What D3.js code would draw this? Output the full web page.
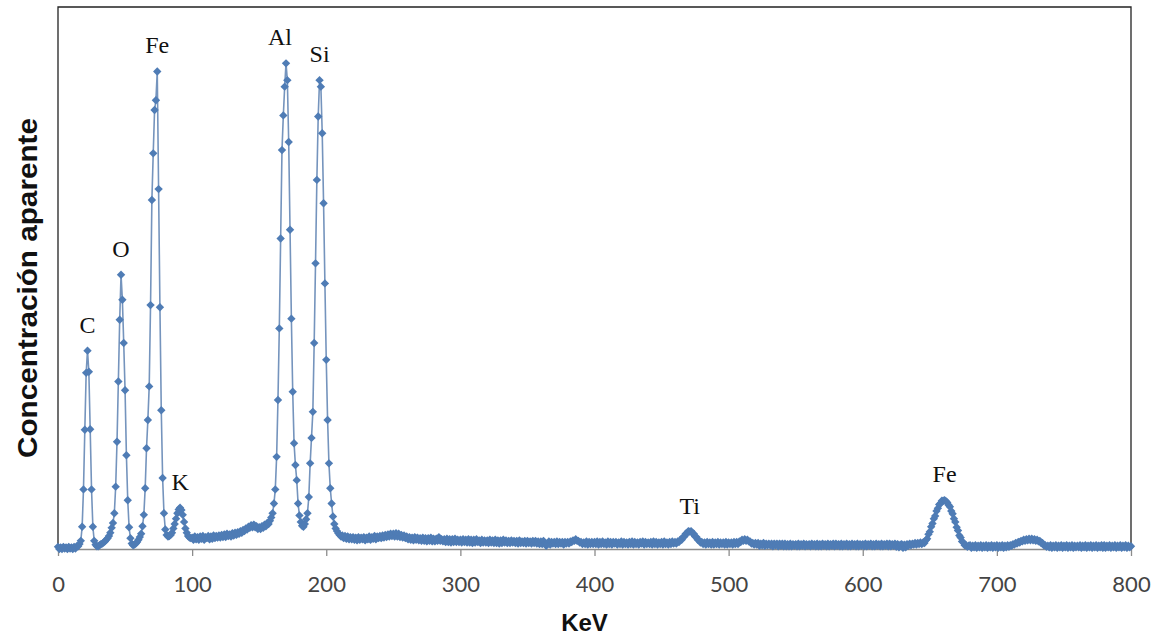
<!DOCTYPE html>
<html>
<head>
<meta charset="utf-8">
<script src="https://cdn.jsdelivr.net/npm/d3@7"></script>
<style>
  body { margin: 0; background: #fff; }
</style>
</head>
<body>
<svg id="chart"></svg>
<script>
const width = 1166;
const height = 639;

// Spectrum readings, one per KeV channel (0..800)
const channelKeV = 1;
const concentration = [
  0.4,0.0,0.3,0.0,0.4,0.1,0.3,0.0,0.4,0.1,0.3,0.0,0.4,0.1,0.5,0.5,0.9,1.5,4.1,11,          // 0
  22,32.5,36.6,32.7,22.1,11,4.1,1.5,0.8,0.5,0.5,0.7,0.9,1.0,1.2,1.4,1.7,2.0,2.4,3.0,       // 20
  3.9,4.8,6.6,11.5,19.8,30.9,42.3,50.6,46,38,29.3,17.3,9,4,2.0,1.0,0.7,0.8,1.0,1.3,        // 40
  1.7,2.2,2.8,4.2,6.3,11.2,18.6,23.8,30,45,64.4,73,81,82.8,88.1,66.4,44.6,25.6,13.1,6.6,   // 60
  3.6,2.6,2.3,2.4,2.6,3.0,3.8,4.6,5.6,6.6,7.3,7.6,7.2,6.3,5.0,3.8,3.0,2.4,2.1,2.0,         // 80
  2.1,1.7,2.3,1.8,2.2,1.7,2.3,1.9,2.4,1.7,2.2,2.0,2.4,1.8,2.3,1.9,2.5,2.0,2.4,2.1,         // 100
  2.5,2.1,2.6,2.2,2.7,2.2,2.8,2.4,2.7,2.3,2.9,2.5,3.0,2.6,3.1,2.8,3.3,3.0,3.5,3.3,         // 120
  3.8,3.6,4.1,3.9,4.4,4.0,4.5,4.0,4.2,3.7,4.0,3.7,4.2,3.9,4.5,4.2,4.8,4.6,5.2,5.8,         // 140
  6.6,8.4,11,17,27.5,40.7,57.3,73.6,80,85.3,89.6,86.5,75.1,58.9,42.5,29,19.5,15.5,12.7,8.4, // 160
  6.2,5.0,4.3,4.1,4.6,5.5,6.6,9.6,15.8,20.5,25.3,38,52.7,68.1,79.8,86.5,85.3,76.7,63.8,49,  // 180
  34.9,23.8,15.8,11.2,8.4,6.0,4.6,3.8,3.3,2.9,2.6,2.3,2.5,2.0,2.4,1.9,2.3,1.8,2.2,1.8,     // 200
  2.2,1.7,2.1,1.6,2.2,1.7,2.1,1.8,2.2,1.6,2.1,1.8,2.3,1.7,2.2,1.9,2.4,1.8,2.3,2.0,         // 220
  2.4,2.0,2.5,2.1,2.6,2.2,2.7,2.3,2.8,2.4,2.8,2.3,2.9,2.3,2.8,2.2,2.6,2.1,2.5,2.0,         // 240
  2.3,1.8,2.2,1.7,2.1,1.6,2.2,1.7,2.1,1.6,2.0,1.5,2.1,1.5,2.0,1.4,2.0,1.5,2.1,1.4,         // 260
  1.9,1.4,1.9,1.5,2.2,1.5,1.8,1.4,1.8,1.3,1.9,1.3,1.8,1.2,1.8,1.3,1.9,1.3,1.7,1.3,         // 280
  1.7,1.2,1.8,1.3,1.7,1.2,1.8,1.2,1.7,1.1,1.7,1.2,1.8,1.3,1.6,1.1,1.7,1.2,1.6,1.2,         // 300
  1.6,1.1,1.7,1.2,1.6,1.1,1.7,1.1,1.6,1.0,1.6,1.1,1.7,1.2,1.6,1.1,1.5,1.1,1.6,1.2,         // 320
  1.5,1.1,1.5,1.0,1.6,1.1,1.4,1.1,1.5,1.0,1.5,1.1,1.4,1.0,1.5,1.1,1.5,1.0,1.4,0.9,         // 340
  1.4,0.9,1.5,1.0,0.6,0.9,1.4,0.8,1.3,1.0,1.3,0.9,1.4,0.9,1.3,1.0,1.3,0.8,1.3,1.0,         // 360
  1.3,1.0,1.4,1.3,1.6,1.5,1.8,1.5,1.5,1.2,1.3,0.9,1.2,0.9,1.4,0.8,1.3,0.9,1.3,0.9,         // 380
  1.3,0.9,1.4,0.8,1.3,0.9,1.4,0.9,1.2,0.8,1.4,0.9,1.3,0.8,1.3,1.0,1.3,0.8,1.2,0.9,         // 400
  1.4,0.8,1.3,0.9,1.2,0.8,1.3,0.9,1.4,0.8,1.3,0.9,1.2,0.8,1.3,1.0,1.4,0.8,1.3,0.9,         // 420
  1.2,0.9,1.3,0.8,1.4,0.9,1.3,0.8,1.2,0.9,1.3,0.8,1.4,0.9,1.2,0.8,1.3,0.9,1.4,1.0,         // 440
  1.3,1.0,1.4,1.3,1.7,1.7,2.2,2.3,2.8,2.9,3.3,3.2,3.3,2.9,2.8,2.3,2.2,1.7,1.6,1.2,         // 460
  1.3,0.9,1.2,0.8,1.3,0.9,1.2,0.8,1.3,0.8,1.2,0.9,1.3,0.8,1.2,0.9,1.2,0.8,1.3,0.8,         // 480
  1.2,0.9,1.2,0.8,1.3,0.9,1.3,0.9,1.4,1.3,1.7,1.5,1.8,1.5,1.7,1.4,1.4,1.0,1.1,0.8,         // 500
  1.1,0.8,1.1,0.6,1.0,0.7,1.1,0.6,1.0,0.7,1.0,0.7,1.0,0.5,1.0,0.7,1.0,0.5,1.0,0.6,         // 520
  1.0,0.5,1.0,0.5,0.9,0.5,1.0,0.5,0.9,0.6,0.9,0.5,1.0,0.5,0.9,0.6,1.0,0.5,0.9,0.6,         // 540
  0.9,0.5,1.0,0.6,0.9,0.5,1.0,0.5,0.9,0.5,1.0,0.6,0.9,0.5,1.0,0.5,0.9,0.6,1.0,0.5,         // 560
  1.0,0.6,0.9,0.5,1.0,0.5,0.9,0.6,1.0,0.5,0.9,0.5,1.0,0.6,0.9,0.5,1.0,0.5,0.9,0.6,         // 580
  0.9,0.5,1.0,0.5,0.9,0.6,1.0,0.5,0.9,0.5,1.0,0.6,0.9,0.5,1.0,0.5,0.9,0.6,1.0,0.5,         // 600
  1.0,0.5,0.9,0.6,1.0,0.4,0.9,0.3,0.8,0.9,0.2,0.8,0.3,0.9,0.6,1.0,0.7,1.0,0.8,1.1,         // 620
  0.8,1.1,0.9,1.2,0.9,1.2,1.1,1.6,1.9,2.7,3.2,4.1,4.7,5.6,6.1,7.0,7.5,8.2,8.4,8.9,         // 640
  8.9,9.0,8.8,8.6,8.1,7.8,7.0,6.5,5.6,5.0,4.0,3.4,2.5,2.1,1.4,1.2,0.7,0.7,0.4,0.6,         // 660
  0.7,0.2,0.6,0.3,0.7,0.2,0.6,0.3,0.7,0.2,0.6,0.3,0.7,0.2,0.6,0.3,0.7,0.2,0.6,0.3,         // 680
  0.7,0.2,0.6,0.3,0.7,0.2,0.6,0.3,0.7,0.4,0.7,0.6,0.9,0.8,1.1,1.0,1.3,1.2,1.5,1.4,         // 700
  1.7,1.5,1.8,1.6,1.9,1.6,1.9,1.6,1.8,1.5,1.7,1.4,1.5,1.1,1.1,0.7,0.7,0.4,0.6,0.3,         // 720
  0.7,0.2,0.6,0.3,0.7,0.2,0.6,0.3,0.7,0.2,0.6,0.3,0.7,0.2,0.6,0.3,0.7,0.2,0.6,0.3,         // 740
  0.6,0.3,0.7,0.2,0.6,0.3,0.7,0.2,0.6,0.3,0.7,0.2,0.6,0.3,0.7,0.2,0.6,0.3,0.7,0.2,         // 760
  0.7,0.2,0.6,0.3,0.7,0.2,0.6,0.3,0.7,0.2,0.6,0.3,0.7,0.2,0.6,0.3,0.7,0.2,0.6,0.3,         // 780
  0.5                                                                                         // 800
];

// Element labels and the channel of the peak they sit on
const peakLabels = ["C", "O", "Fe", "K", "Al", "Si", "Ti", "Fe"];
const peakKeV = [22, 47, 74, 91, 170, 195, 471, 661];

// X axis ticks
const xTicks = [0, 100, 200, 300, 400, 500, 600, 700, 800];

const points = concentration.map((v, i) => ({ kev: i * channelKeV, value: v }));

const margin = { top: 7, right: 35, bottom: 90, left: 58 };
const plotW = width - margin.left - margin.right;
const plotH = height - margin.top - margin.bottom;

const svg = d3.select("#chart")
  .attr("width", width)
  .attr("height", height)
  .style("font-family", "Lato, 'Open Sans', sans-serif");

const x = d3.scaleLinear().domain([0, 800]).range([margin.left, margin.left + plotW]);
const y = d3.scaleLinear().domain([0, 100]).range([margin.top + plotH, margin.top]);

// Plot frame (top, left, right in black)
svg.append("path")
  .attr("d", `M${x(0)},${y(0)}V${y(100)}H${x(800)}V${y(0)}`)
  .attr("fill", "none")
  .attr("stroke", "#222")
  .attr("stroke-width", 1.3);

// X axis
const xAxis = svg.append("g")
  .attr("transform", `translate(0,${y(0)})`)
  .call(d3.axisBottom(x).tickValues(xTicks).tickSize(7).tickPadding(20).tickSizeOuter(0));

xAxis.select(".domain").attr("stroke", "#8c8c8c").attr("stroke-width", 1.3);
xAxis.selectAll(".tick line").attr("stroke", "#8c8c8c").attr("stroke-width", 1.3);
xAxis.selectAll(".tick text")
  .attr("fill", "#444")
  .attr("font-size", "22px")
  .attr("font-family", "Lato, 'Open Sans', sans-serif");

// Axis titles
svg.append("text")
  .attr("x", x(400) - 10)
  .attr("y", 631)
  .attr("text-anchor", "middle")
  .attr("font-family", "'Liberation Sans', Arial, sans-serif")
  .attr("font-weight", "bold")
  .attr("font-size", "24px")
  .attr("fill", "#111")
  .text("KeV");

svg.append("text")
  .attr("transform", `translate(37,${(118 + 458) / 2}) rotate(-90)`)
  .attr("text-anchor", "middle")
  .attr("font-family", "'Liberation Sans', Arial, sans-serif")
  .attr("font-weight", "bold")
  .attr("font-size", "27px")
  .attr("textLength", 340)
  .attr("lengthAdjust", "spacingAndGlyphs")
  .attr("fill", "#111")
  .text("Concentración aparente");

// Spectrum line
const line = d3.line()
  .x(d => x(d.kev))
  .y(d => y(d.value));

svg.append("path")
  .datum(points)
  .attr("d", line)
  .attr("fill", "none")
  .attr("stroke", "#7594bd")
  .attr("stroke-width", 1.6)
  .attr("stroke-linejoin", "round");

// Diamond markers on every channel
const diamond = "M0,-4.2L4.2,0L0,4.2L-4.2,0Z";

svg.append("g")
  .selectAll("path")
  .data(points)
  .join("path")
  .attr("transform", d => `translate(${x(d.kev)},${y(d.value)})`)
  .attr("d", diamond)
  .attr("fill", "#4f7cb5");

// Peak labels
svg.append("g")
  .selectAll("text")
  .data(peakLabels)
  .join("text")
  .attr("x", (d, i) => x(peakKeV[i]) + (d === "Al" ? -6 : 0))
  .attr("y", (d, i) => y(concentration[peakKeV[i] / channelKeV]) - 18)
  .attr("text-anchor", "middle")
  .attr("font-family", "'Liberation Serif', 'Times New Roman', serif")
  .attr("font-size", "24px")
  .attr("fill", "#111")
  .text(d => d);
</script>
</body>
</html>
